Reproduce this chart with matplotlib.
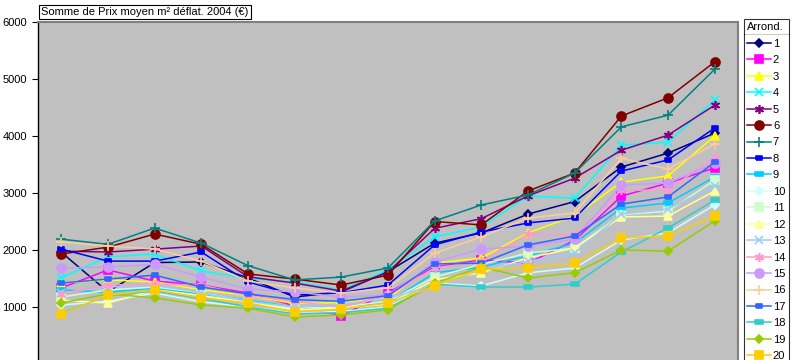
import numpy as np
import matplotlib
matplotlib.use("Agg")
import matplotlib.pyplot as plt
from matplotlib.lines import Line2D

plt.rcParams['font.family'] = ['Liberation Sans', 'DejaVu Sans']

# 15 periods on a category axis (labels are below the visible area)
periodes = list(range(15))

arrond = [str(i) for i in range(1, 21)]

prix_1 = [1960, 1265, 1780, 1790, 1510, 1175, 1265, 1620, 2120, 2300, 2630, 2850, 3455, 3700, 4050]
prix_2 = [1335, 1650, 1455, 1385, 1245, 1020, 850, 1250, 1700, 1825, 1770, 2170, 2945, 3175, 3440]
prix_3 = [1420, 1475, 1440, 1300, 1200, 1060, 1080, 1150, 1770, 1860, 2300, 2600, 3190, 3300, 4000]
prix_4 = [1510, 1880, 1930, 1630, 1500, 1440, 1300, 1650, 2230, 2405, 2945, 2910, 3840, 3890, 4630]
prix_5 = [1980, 1965, 2015, 2070, 1530, 1420, 1280, 1615, 2380, 2550, 2950, 3260, 3750, 4015, 4540]
prix_6 = [1930, 2050, 2280, 2100, 1580, 1490, 1385, 1560, 2500, 2440, 3035, 3350, 4350, 4670, 5300]
prix_7 = [2190, 2100, 2385, 2120, 1725, 1475, 1525, 1685, 2510, 2790, 2965, 3350, 4160, 4365, 5170]
prix_8 = [2015, 1805, 1805, 1965, 1440, 1210, 1250, 1385, 2090, 2315, 2475, 2560, 3385, 3580, 4140]
prix_9 = [1300, 1260, 1330, 1230, 1120, 1000, 1000, 1080, 1600, 1700, 1900, 2120, 2735, 2825, 3280]
prix_10 = [1035, 1100, 1245, 1090, 1000, 900, 920, 1000, 1420, 1370, 1600, 1685, 2175, 2300, 2790]
prix_11 = [1175, 1300, 1350, 1250, 1100, 980, 1000, 1100, 1525, 1750, 1945, 2035, 2620, 2680, 3225]
prix_12 = [1120, 1070, 1300, 1200, 1080, 950, 980, 1050, 1480, 1600, 1860, 2035, 2580, 2595, 3035]
prix_13 = [1250, 1350, 1380, 1250, 1100, 1000, 1050, 1150, 1380, 1650, 1800, 1950, 2630, 2720, 3120]
prix_14 = [1230, 1385, 1400, 1385, 1200, 1100, 1000, 1200, 1685, 1800, 2280, 2260, 3050, 3050, 3630]
prix_15 = [1685, 1700, 1750, 1525, 1315, 1265, 1175, 1210, 1790, 2015, 2070, 2190, 3140, 3175, 3525]
prix_16 = [2140, 2070, 2015, 1805, 1455, 1335, 1245, 1335, 1945, 2230, 2560, 2650, 3610, 3420, 3860]
prix_17 = [1420, 1490, 1560, 1350, 1230, 1130, 1100, 1200, 1755, 1770, 2090, 2245, 2805, 2930, 3540]
prix_18 = [890, 1200, 1280, 1150, 1000, 880, 900, 980, 1400, 1350, 1350, 1400, 1965, 2385, 2875]
prix_19 = [1070, 1230, 1160, 1035, 980, 825, 860, 950, 1420, 1700, 1510, 1600, 2000, 1980, 2510]
prix_20 = [875, 1210, 1300, 1160, 1070, 910, 965, 1070, 1370, 1665, 1685, 1770, 2210, 2245, 2595]

series = [prix_1, prix_2, prix_3, prix_4, prix_5, prix_6, prix_7, prix_8, prix_9, prix_10,
          prix_11, prix_12, prix_13, prix_14, prix_15, prix_16, prix_17, prix_18, prix_19, prix_20]

couleurs = ['#000080', '#FF00FF', '#FFFF00', '#00FFFF', '#800080', '#800000', '#008080',
            '#0000FF', '#00CCFF', '#CCFFFF', '#CCFFCC', '#FFFF99', '#99CCFF', '#FF99CC',
            '#CC99FF', '#FFCC99', '#3366FF', '#33CCCC', '#99CC00', '#FFCC00']

tiret = [(-1, -0.45), (1, -0.45), (1, 0.45), (-1, 0.45), (-1, -0.45)]
marqueurs = ['D', 's', '^', 'x', (6, 2, 0), 'o', '+', tiret, tiret,
             'D', 's', '^', 'x', (6, 2, 0), 'o', '+', tiret, tiret, 'D', 's']
tailles = [4, 5.5, 5.5, 5.5, 6.5, 6.5, 7, 5, 6, 4.5, 5.5, 5.5, 5.5, 6.5, 6.5, 7, 5, 6, 4.5, 5.5]

fig = plt.figure(figsize=(7.92, 3.6), dpi=100)
fig.patch.set_facecolor('white')

W, H = 792, 360
ax = fig.add_axes([38 / W, 1 - 364 / H, 700 / W, 342 / H])
ax.set_facecolor('#C0C0C0')

handles = []
for vals, c, m, s, lab in zip(series, couleurs, marqueurs, tailles, arrond):
    h, = ax.plot(periodes, vals, color=c, lw=1.1, marker=m, markersize=s,
                 markerfacecolor=c, markeredgecolor=c, markeredgewidth=1.2, label=lab)
    handles.append(h)

ax.set_xlim(-0.5, 14.5)
ax.set_ylim(0, 6000)
ax.set_yticks(range(1000, 7000, 1000))
ax.set_xticks([])
ax.tick_params(axis='y', direction='out', length=4, width=0.8, labelsize=8, pad=4)
for side in ['top', 'right']:
    ax.spines[side].set_color('#808080')
    ax.spines[side].set_linewidth(1.5)
ax.spines['left'].set_color('black')
ax.spines['left'].set_linewidth(1.0)
ax.spines['bottom'].set_visible(False)

# field button above the plot area
fig.text(41 / W, 1 - 12 / H, 'Somme de Prix moyen m² déflat. 2004 (€)', fontsize=8,
         va='center', ha='left',
         bbox=dict(boxstyle='square,pad=0.2', facecolor='white', edgecolor='black', lw=0.8))

leg = fig.legend(handles=handles, labels=arrond, title='Arrond.', loc='upper left',
                 bbox_to_anchor=(744 / W, 1 - 19 / H), frameon=True, fancybox=False,
                 edgecolor='black', fontsize=8, title_fontsize=8, labelspacing=0.58,
                 handlelength=2.1, handletextpad=0.2, borderpad=0.3, borderaxespad=0,
                 alignment='left')
leg.get_frame().set_linewidth(0.8)

# separator under the legend title, as wide as the legend frame
fig.canvas.draw()
bb = leg.get_window_extent().transformed(fig.transFigure.inverted())
fig.add_artist(Line2D([bb.x0, bb.x1], [1 - 34 / H, 1 - 34 / H], color='black',
                      lw=0.8, transform=fig.transFigure))

fig.savefig('out.png', dpi=100)
